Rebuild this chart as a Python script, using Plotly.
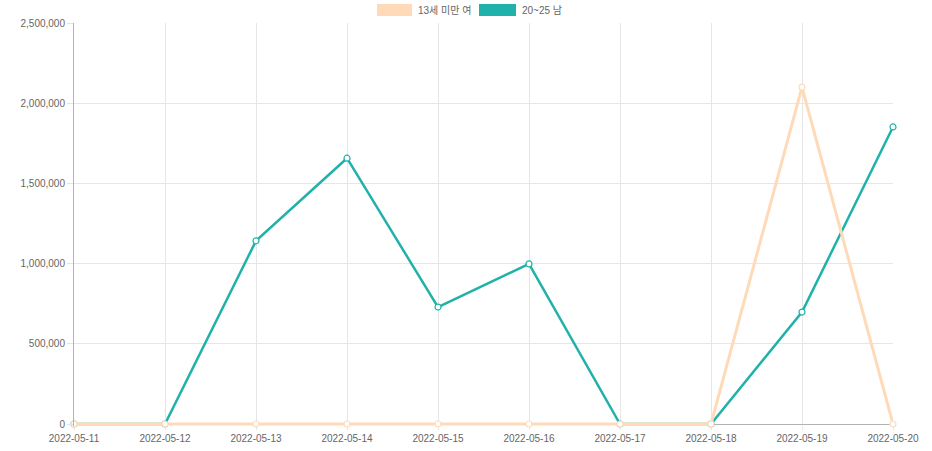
import plotly.graph_objects as go

dates = ["2022-05-11", "2022-05-12", "2022-05-13", "2022-05-14", "2022-05-15",
         "2022-05-16", "2022-05-17", "2022-05-18", "2022-05-19", "2022-05-20"]
girls_under13 = [0, 0, 0, 0, 0, 0, 0, 0, 2100000, 0]
male_20_25 = [0, 0, 1142000, 1657000, 729000, 998000, 0, 0, 698000, 1852000]

name_a = "13세 미만 여"
name_b = "20~25 남"
color_a = "#FFDAB9"
color_b = "#20B2AA"

font_family = "Liberation Sans, Arial, Noto Sans CJK KR, sans-serif"

fig = go.Figure()
fig.add_trace(go.Scatter(
    x=dates, y=male_20_25, name=name_b, mode="lines+markers",
    line=dict(color=color_b, width=2.5),
    marker=dict(size=6, color="white", line=dict(color=color_b, width=1.2)),
    cliponaxis=False, showlegend=False))
fig.add_trace(go.Scatter(
    x=dates, y=girls_under13, name=name_a, mode="lines+markers",
    line=dict(color=color_a, width=3),
    marker=dict(size=6, color="white", line=dict(color=color_a, width=1.2)),
    cliponaxis=False, showlegend=False))

W, H = 932, 451
ml, mr, mt, mb = 74, 39, 23, 25
pw = W - ml - mr
ph = H - mt - mb
ymax = 2500000
# plot area extends 2px below zero so the baseline line is not clipped
ymin = -ymax * 2 / (ph - 2)

def px_to_paper_x(px):
    return (px - ml) / pw

def px_to_paper_y(py):
    return (H - mb - py) / ph

# manual legend (Chart.js style boxes)
legend_items = [(name_a, color_a, 377, 412, 416), (name_b, color_b, 479, 516, 520)]
shapes = []
annotations = []
for label, col, x0, x1, tx in legend_items:
    shapes.append(dict(type="rect", xref="paper", yref="paper",
                       x0=px_to_paper_x(x0), x1=px_to_paper_x(x1),
                       y0=px_to_paper_y(16), y1=px_to_paper_y(4),
                       fillcolor=col, line=dict(width=0)))
    annotations.append(dict(text=label, xref="paper", yref="paper",
                            x=px_to_paper_x(tx), y=px_to_paper_y(10),
                            xanchor="left", yanchor="middle", showarrow=False,
                            font=dict(size=10, color="#666", family=font_family)))

fig.update_layout(
    width=W, height=H,
    margin=dict(l=ml, r=mr, t=mt, b=mb, autoexpand=False),
    plot_bgcolor="white", paper_bgcolor="white",
    font=dict(family=font_family, size=10, color="#666"),
    shapes=shapes, annotations=annotations,
    showlegend=False,
    xaxis=dict(type="category", range=[0, len(dates) - 1], automargin=False,
               showgrid=True, gridcolor="#e6e6e6", gridwidth=1,
               showline=False,
               ticks="outside", ticklen=3, tickcolor="#e6e6e6",
               tickfont=dict(size=10, color="#666")),
    yaxis=dict(range=[ymin, ymax], tick0=0, dtick=500000, tickformat=",", automargin=False,
               showgrid=True, gridcolor="#e6e6e6", gridwidth=1,
               zeroline=True, zerolinecolor="#b3b3b3", zerolinewidth=1,
               showline=True, linecolor="#b3b3b3", linewidth=1,
               ticks="outside", ticklen=6, tickcolor="#e6e6e6",
               tickfont=dict(size=10, color="#666")),
)

fig.write_html("out.html", config={"displayModeBar": False},
               post_script="document.body.style.margin='0';document.body.style.overflow='hidden';")
